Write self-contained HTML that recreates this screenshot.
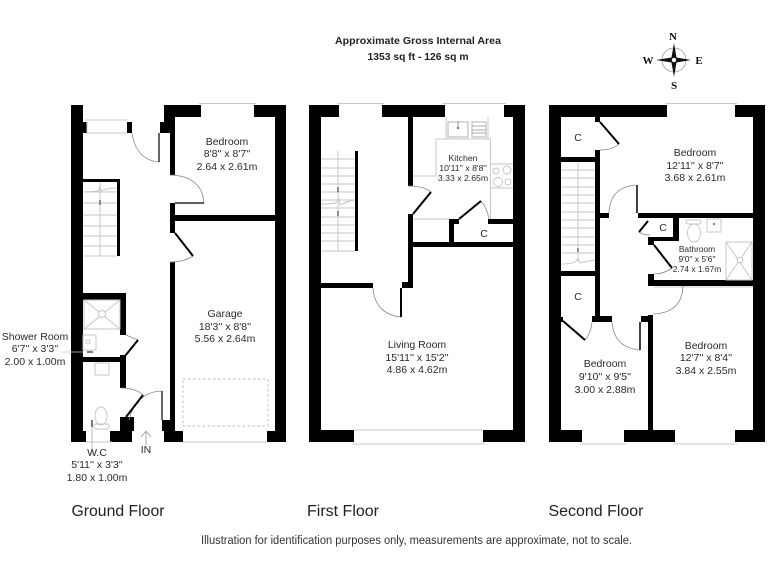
<!DOCTYPE html>
<html><head><meta charset="utf-8"><style>
html,body{margin:0;padding:0;background:#fff}
svg{display:block}
text{font-family:"Liberation Sans",Arial,sans-serif;fill:#2a2a2a;text-anchor:middle}
.t{font-size:10.5px}
.s{font-size:8.4px}
.f{font-size:15.5px;fill:#222}
.w{fill:#000;stroke:none}
.a{fill:none;stroke:#888;stroke-width:.8}
.g{fill:none;stroke:#c4c4c4;stroke-width:.9}
.d{fill:none;stroke:#000;stroke-width:2}
.win{fill:none;stroke:#c8c8c8;stroke-width:1}
</style></head><body>
<svg width="768" height="576" viewBox="0 0 768 576" xmlns="http://www.w3.org/2000/svg">
<rect width="768" height="576" fill="#fff"/>

<text x="418" y="44" style="font-size:10.5px;font-weight:bold;fill:#222" textLength="166" lengthAdjust="spacingAndGlyphs">Approximate Gross Internal Area</text>
<text x="418" y="60" style="font-size:10.5px;font-weight:bold;fill:#222" textLength="101" lengthAdjust="spacingAndGlyphs">1353 sq ft - 126 sq m</text>

<!-- compass -->
<g>
<circle cx="674" cy="60" r="12" fill="none" stroke="#999" stroke-width=".8"/>
<path d="M674 43L676.5 57.5L691 60L676.5 62.5L674 77L671.5 62.5L656 60L671.5 57.5Z" fill="#111"/>
<circle cx="674" cy="60" r="2.4" fill="#fff" stroke="#333" stroke-width=".6"/>
<text x="673" y="40" style="font-size:11px;font-weight:bold;font-family:'Liberation Serif',serif;fill:#111">N</text>
<text x="648" y="64" style="font-size:11px;font-weight:bold;font-family:'Liberation Serif',serif;fill:#111">W</text>
<text x="699" y="64" style="font-size:11px;font-weight:bold;font-family:'Liberation Serif',serif;fill:#111">E</text>
<text x="674" y="89" style="font-size:11px;font-weight:bold;font-family:'Liberation Serif',serif;fill:#111">S</text>
</g>

<!-- GROUND FLOOR -->
<g class="w">
<rect x="71" y="105" width="12" height="337"/>
<rect x="83" y="122" width="4" height="11"/>
<rect x="127" y="122" width="5" height="11"/>
<rect x="160" y="122" width="15" height="11"/>
<rect x="164" y="105" width="37" height="12"/>
<rect x="164" y="105" width="11" height="17"/>
<rect x="254" y="105" width="32" height="12"/>
<rect x="275" y="105" width="11" height="337"/>
<rect x="170" y="133" width="5" height="42"/>
<rect x="170" y="203" width="5" height="30"/>
<rect x="175" y="215" width="100" height="6"/>
<rect x="170" y="262" width="5" height="158"/>
<rect x="162" y="420" width="13" height="11"/>
<rect x="164" y="431" width="19" height="11"/>
<rect x="267" y="431" width="19" height="11"/>
<rect x="71" y="431" width="15" height="11"/>
<rect x="110" y="431" width="22" height="11"/>
<rect x="120" y="417" width="14" height="14"/>
<rect x="83" y="293" width="43" height="7"/>
<rect x="120" y="293" width="6" height="42"/>
<rect x="83" y="357" width="43" height="5"/>
<rect x="120" y="355" width="6" height="33"/>
<rect x="83" y="179" width="37" height="3"/>
<rect x="117" y="179" width="3" height="77"/>
</g>
<path class="win" d="M85 120H128M87 122V133H127M199 103.500H256M86 442H112M183 442H267"/>
<path class="a" d="M132 133Q136 160 159 162M170 175Q202 176 204 203M193 256Q184 262 170 262M138 340Q130 337 126 335M121 388Q136 388 143 395M162 391Q136 392 129 420"/>
<path class="d" style="stroke-width:1.2" d="M159 133V162M175 203H204M162 391V420"/>
<path class="d" d="M175 233L193 256M138 340L125 356M126 417L143 395"/>
<path class="g" d="M83 192H117M83 203H117M83 215H117M83 226H117M83 236H117M83 246H117M83 256H117M100 182V256M83 192Q92 192 98 191L100 186L101 191Q108 188 117 188"/>
<path d="M100 200V205" stroke="#222" stroke-width="1"/>
<rect x="183" y="379" width="85" height="47" fill="none" stroke="#bbb" stroke-width=".9" stroke-dasharray="2.500 2.500"/>
<path class="g" d="M84 300H120V329H84ZM84 300L120 329M120 300L84 329"/>
<circle cx="102" cy="314" r="3.500" fill="#fff" stroke="#c4c4c4"/>
<rect x="83" y="335" width="13" height="15" class="g"/>
<circle cx="88" cy="342" r="2" class="g"/>
<path d="M87 352H93" stroke="#222" stroke-width="1.200"/>
<rect x="95" y="363" width="14" height="12" class="g"/>
<ellipse cx="101" cy="416" rx="6" ry="9" class="g"/>
<rect x="94" y="424" width="15" height="5" class="g" rx="2"/>
<path d="M92 420V455" stroke="#aaa" stroke-width=".8"/>
<path d="M92 420V427" stroke="#222" stroke-width="1.200"/>
<path d="M62 352H83" stroke="#ccc" stroke-width=".8"/>
<path d="M146 445V432M141 437L146 431L151 437" fill="none" stroke="#aaa" stroke-width="1"/>

<text class="t" x="227" y="145">Bedroom</text>
<text class="t" x="227" y="157">8'8'' x 8'7''</text>
<text class="t" x="227" y="170">2.64 x 2.61m</text>
<text class="t" x="225" y="317">Garage</text>
<text class="t" x="225" y="330">18'3'' x 8'8''</text>
<text class="t" x="225" y="342">5.56 x 2.64m</text>
<text class="t" x="35" y="340">Shower Room</text>
<text class="t" x="35" y="352">6'7'' x 3'3''</text>
<text class="t" x="35" y="365">2.00 x 1.00m</text>
<text class="t" x="97" y="456">W.C</text>
<text class="t" x="97" y="468">5'11'' x 3'3''</text>
<text class="t" x="97" y="481">1.80 x 1.00m</text>
<text class="t" x="146" y="453">IN</text>

<!-- FIRST FLOOR -->
<g class="w">
<rect x="309" y="105" width="12" height="337"/>
<rect x="513" y="105" width="12" height="337"/>
<rect x="309" y="105" width="30" height="12"/>
<rect x="382" y="105" width="63" height="12"/>
<rect x="504" y="105" width="21" height="12"/>
<rect x="408" y="117" width="5" height="69"/>
<rect x="408" y="214" width="5" height="74"/>
<rect x="402" y="282" width="11" height="6"/>
<rect x="321" y="283" width="52" height="5"/>
<rect x="413" y="242" width="100" height="5"/>
<rect x="449" y="219" width="5" height="23"/>
<rect x="449" y="219" width="10" height="5"/>
<rect x="488" y="219" width="25" height="5"/>
<rect x="355" y="151" width="3" height="100"/>
<rect x="309" y="430" width="45" height="12"/>
<rect x="483" y="430" width="42" height="12"/>
</g>
<path class="win" d="M337 103.500H384M443 103.500H506M354 430H483M353 444H485"/>
<path class="a" d="M408 186Q424 186 431 192M481 201Q487 208 489 219M373 288Q375 314 401 317"/>
<path class="d" d="M431 192L413 214M459 219L481 201"/>
<path class="d" d="M401 288V317"/>
<path class="g" d="M446 117V139M488 117V139M436 139H490M436 139V176M490.500 139V219M413 176H436M413 219H449M491 164H513M491 188H513"/>
<circle cx="496" cy="171" r="3" class="g"/><circle cx="507" cy="170" r="4" class="g"/><circle cx="498" cy="182" r="4.500" class="g"/><circle cx="508" cy="182" r="3" class="g"/>
<rect x="448" y="122" width="20" height="15" class="g" style="stroke:#aaa"/>
<path d="M458 121V128" stroke="#999" stroke-width="1"/>
<circle cx="458" cy="128" r="1.200" fill="#777"/>
<rect x="472" y="122" width="14" height="15" class="g" style="stroke:#aaa"/>
<path class="g" style="stroke:#aaa" d="M472 126H486M472 130H486M472 133H486"/>
<path class="g" d="M321 159H355M321 168H355M321 176H355M321 184H355M321 192H355M321 200H355M321 208H355M321 217H355M321 225H355M321 233H355M321 241H355M321 251H355M338 151V251M321 204Q330 204 336 203L339 199L340 205Q348 201 355 200"/>
<path d="M338 187V192M338 211V216" stroke="#222" stroke-width="1"/>
<text class="s" x="463" y="161" style="font-size:8.7px">Kitchen</text>
<text class="s" x="463" y="171" style="font-size:8.7px">10'11'' x 8'8''</text>
<text class="s" x="463" y="181" style="font-size:8.7px">3.33 x 2.65m</text>
<text class="t" x="484" y="237">C</text>
<text class="t" x="417" y="348">Living Room</text>
<text class="t" x="417" y="361">15'11'' x 15'2''</text>
<text class="t" x="417" y="373">4.86 x 4.62m</text>

<!-- SECOND FLOOR -->
<g class="w">
<rect x="549" y="105" width="12" height="337"/>
<rect x="753" y="105" width="12" height="337"/>
<rect x="549" y="105" width="118" height="12"/>
<rect x="735" y="105" width="30" height="12"/>
<rect x="595" y="117" width="5" height="5"/>
<rect x="595" y="150" width="5" height="166"/>
<rect x="561" y="157" width="34" height="5"/>
<rect x="600" y="213" width="9" height="5"/>
<rect x="638" y="213" width="115" height="5"/>
<rect x="673" y="218" width="6" height="23"/>
<rect x="648" y="237" width="31" height="4"/>
<rect x="648" y="237" width="6" height="8"/>
<rect x="648" y="274" width="6" height="12"/>
<rect x="648" y="280" width="105" height="6"/>
<rect x="561" y="271" width="34" height="5"/>
<rect x="592" y="316" width="20" height="6"/>
<rect x="641" y="316" width="12" height="6"/>
<rect x="648" y="315" width="5" height="115"/>
<rect x="561" y="317" width="2" height="5"/>
<rect x="549" y="430" width="33" height="12"/>
<rect x="624" y="430" width="51" height="12"/>
<rect x="735" y="430" width="30" height="12"/>
</g>
<path class="win" d="M665 103.500H737M580 444H626M673 444H737M654 287H753"/>
<path class="a" d="M619 144Q612 150 600 150M609 213Q610 187 636 185M639 232Q643 235 650 235M672 268Q664 274 654 274M683 286Q682 313 653 314M612 322Q614 348 640 350M585 340Q591 333 592 322"/>
<path class="d" d="M600 122L619 144M654 245L672 268M639 232L648 221M563 321L585 340"/>
<path class="d" style="stroke-width:1.500" d="M637 185V213M640 322V350"/>
<path class="g" d="M561 170H595M561 178H595M561 187H595M561 195H595M561 203H595M561 212H595M561 220H595M561 228H595M561 237H595M561 245H595M561 253H595M578 162V262M561 264Q570 264 575 262L578 258L580 263Q588 261 595 260"/>
<path d="M578 248V252" stroke="#222" stroke-width="1"/>
<rect x="707" y="219" width="14" height="13" class="g"/>
<circle cx="714" cy="224" r="1.200" fill="#888"/>
<rect x="686" y="220" width="15" height="4" rx="2" class="g"/>
<ellipse cx="694" cy="233" rx="6.500" ry="9" class="g"/>
<path class="g" d="M726 242H752V280H726ZM726 242L752 280M752 242L726 280"/>
<circle cx="740" cy="260" r="2.800" fill="#fff" stroke="#c4c4c4"/>
<text class="t" x="578" y="141">C</text>
<text class="t" x="663" y="231">C</text>
<text class="t" x="578" y="300">C</text>
<text class="t" x="695" y="156">Bedroom</text>
<text class="t" x="695" y="169">12'11'' x 8'7''</text>
<text class="t" x="695" y="181">3.68 x 2.61m</text>
<text class="s" x="697" y="252">Bathroom</text>
<text class="s" x="697" y="262">9'0'' x 5'6''</text>
<text class="s" x="697" y="272">2.74 x 1.67m</text>
<text class="t" x="605" y="367">Bedroom</text>
<text class="t" x="605" y="380">9'10'' x 9'5''</text>
<text class="t" x="605" y="393">3.00 x 2.88m</text>
<text class="t" x="706" y="349">Bedroom</text>
<text class="t" x="706" y="361">12'7'' x 8'4''</text>
<text class="t" x="706" y="374">3.84 x 2.55m</text>

<text class="f" x="118" y="516" textLength="93" lengthAdjust="spacingAndGlyphs">Ground Floor</text>
<text class="f" x="343" y="516" textLength="72" lengthAdjust="spacingAndGlyphs">First Floor</text>
<text class="f" x="596" y="516" textLength="95" lengthAdjust="spacingAndGlyphs">Second Floor</text>
<text x="416.500" y="544" style="font-size:11.500px;fill:#333" textLength="431" lengthAdjust="spacingAndGlyphs">Illustration for identification purposes only, measurements are approximate, not to scale.</text>
</svg>
</body></html>
